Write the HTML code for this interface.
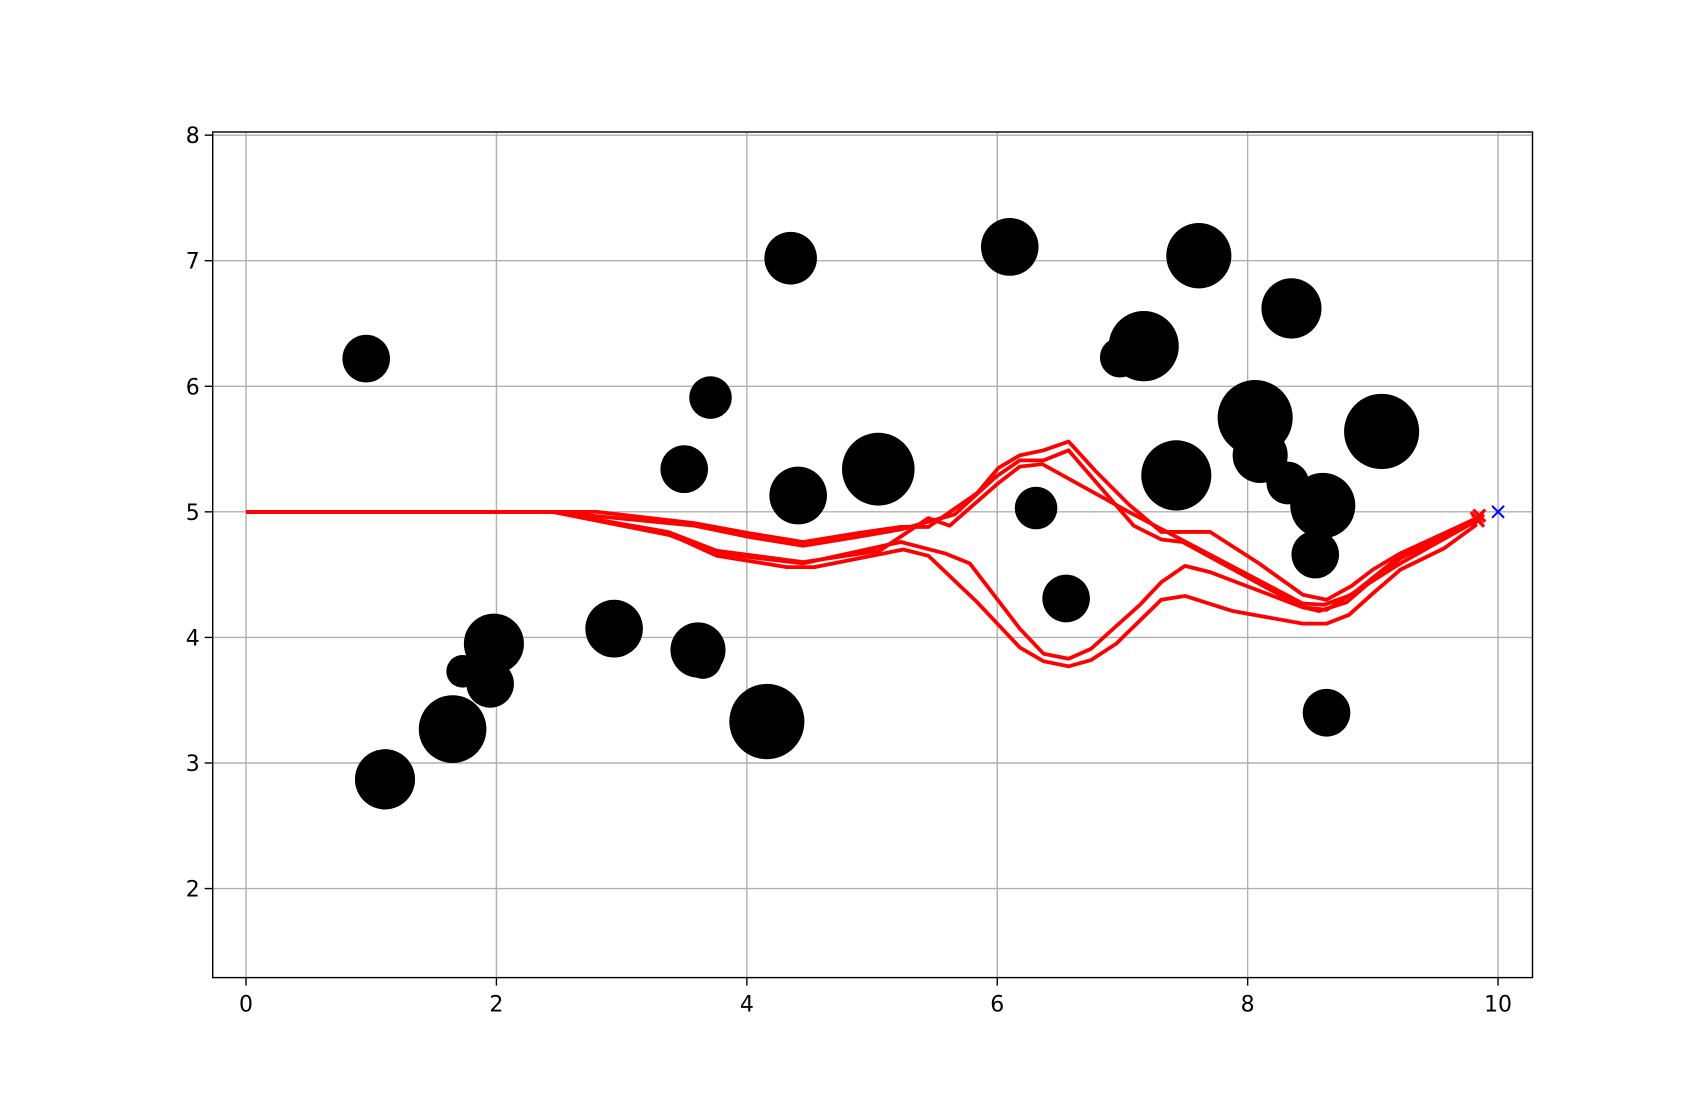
<!DOCTYPE html>
<html><head><meta charset="utf-8"><style>
html,body{margin:0;padding:0;background:#fff;}
svg{display:block;}
text{font-family:"DejaVu Sans","Liberation Sans",sans-serif;font-size:22px;fill:#000;}
</style></head><body>
<svg id="chart" width="1702" height="1098" viewBox="0 0 1702 1098" xmlns="http://www.w3.org/2000/svg">
<rect width="1702" height="1098" fill="#fff"/>
<g id="grid"></g>
<g id="obstacles"></g>
<g id="paths"></g>
<g id="markers"></g>
<g id="axes"></g>
</svg>
<script>
const xTicks = [0,2,4,6,8,10];
const yTicks = [2,3,4,5,6,7,8];
const obsX = [0.96,1.11,1.65,1.73,1.98,1.95,2.94,3.50,3.71,3.61,3.65,4.16,4.35,4.41,5.05,6.10,6.31,6.55,6.98,7.17,7.43,7.61,8.06,8.10,8.32,8.35,8.60,8.54,8.63,9.07];
const obsY = [6.22,2.87,3.27,3.73,3.95,3.63,4.07,5.34,5.91,3.90,3.82,3.33,7.02,5.13,5.34,7.11,5.03,4.31,6.23,6.32,5.29,7.04,5.75,5.45,5.23,6.62,5.05,4.66,3.40,5.64];
const obsR = [0.19,0.24,0.27,0.13,0.24,0.19,0.23,0.19,0.17,0.22,0.15,0.30,0.21,0.23,0.29,0.23,0.17,0.19,0.16,0.28,0.28,0.26,0.30,0.22,0.17,0.24,0.26,0.19,0.19,0.30];
const pathAx = [0,2.45,2.80,3.58,4.02,4.45,4.88,5.23,5.45,5.84,6.01,6.18,6.37,6.57,6.79,7.05,7.31,7.70,8.09,8.44,8.63,8.83,9.00,9.22,9.57,9.83];
const pathAy = [5,5,5,4.91,4.83,4.76,4.83,4.88,4.88,5.15,5.35,5.45,5.49,5.56,5.32,5.06,4.84,4.84,4.59,4.34,4.30,4.41,4.54,4.67,4.83,4.95];
const pathBx = [0,2.45,3.58,4.02,4.45,4.88,5.23,5.66,5.99,6.18,6.37,6.57,7.09,7.31,7.48,8.44,8.57,8.79,9.00,9.22,9.83];
const pathBy = [5,5,4.89,4.80,4.73,4.80,4.86,4.98,5.28,5.41,5.41,5.49,4.89,4.78,4.76,4.24,4.21,4.28,4.46,4.63,4.93];
const pathCx = [0,2.45,3.37,3.76,4.45,5.06,5.45,5.62,6.01,6.18,6.36,7.05,8.44,8.61,8.83,9.22,9.83];
const pathCy = [5,5,4.84,4.69,4.60,4.69,4.95,4.89,5.23,5.36,5.38,5.00,4.27,4.26,4.34,4.65,4.93];
const pathDx = [0,2.45,3.37,3.76,4.45,5.23,5.58,5.78,6.18,6.37,6.57,6.75,6.95,7.14,7.31,7.50,7.70,8.44,8.63,8.87,9.22,9.83];
const pathDy = [5,5,4.82,4.67,4.59,4.76,4.67,4.59,4.07,3.87,3.83,3.91,4.09,4.26,4.44,4.57,4.52,4.24,4.22,4.37,4.59,4.93];
const pathEx = [0,2.45,3.41,3.76,4.32,4.54,5.25,5.45,5.84,6.18,6.37,6.57,6.75,6.95,7.31,7.50,7.88,8.44,8.63,8.81,9.00,9.22,9.57,9.83];
const pathEy = [5,5,4.81,4.65,4.56,4.56,4.70,4.65,4.28,3.92,3.81,3.77,3.82,3.95,4.30,4.33,4.21,4.11,4.11,4.18,4.35,4.54,4.71,4.90];
const endX = [9.83,9.85,9.84];
const endY = [4.95,4.97,4.93];
const goalX = [10];
const goalY = [5];

const L=212.7,R=1532.5,T=132,B=977.6;
const xmin=-0.266,xmax=10.275,ymin=1.291,ymax=8.025;
const sx=v=>L+(v-xmin)/(xmax-xmin)*(R-L);
const sy=v=>B-(v-ymin)/(ymax-ymin)*(B-T);
const NS='http://www.w3.org/2000/svg';
function mk(tag,attrs,parent){const e=document.createElementNS(NS,tag);for(const k in attrs)e.setAttribute(k,attrs[k]);parent.appendChild(e);return e;}
const grid=document.getElementById('grid'),obs=document.getElementById('obstacles'),paths=document.getElementById('paths'),markers=document.getElementById('markers'),axes=document.getElementById('axes');

xTicks.forEach(t=>{
  const g=mk('line',{x1:sx(t),x2:sx(t),y1:T,y2:B,stroke:'#b0b0b0','stroke-width':1.4},grid);
  
  
  const tk=mk('line',{x1:sx(t),x2:sx(t),y1:B,y2:B+8,stroke:'#000','stroke-width':1.4},axes);
  
  
  const tx=mk('text',{x:sx(t),y:B+34,'text-anchor':'middle'},axes);tx.textContent=t;
  
  
});
yTicks.forEach(t=>{
  const g=mk('line',{x1:L,x2:R,y1:sy(t),y2:sy(t),stroke:'#b0b0b0','stroke-width':1.4},grid);
  
  
  const tk=mk('line',{x1:L-8,x2:L,y1:sy(t),y2:sy(t),stroke:'#000','stroke-width':1.4},axes);
  
  
  const tx=mk('text',{x:L-13,y:sy(t)+8,'text-anchor':'end'},axes);tx.textContent=t;
  
  
});
const frame=mk('rect',{x:L,y:T,width:R-L,height:B-T,fill:'none',stroke:'#000','stroke-width':1.4},axes);



const pxX=(R-L)/(xmax-xmin),pxY=(B-T)/(ymax-ymin);
obsX.forEach((x,i)=>{
  const c=mk('ellipse',{cx:sx(x),cy:sy(obsY[i]),rx:obsR[i]*pxX,ry:obsR[i]*pxY,fill:'#000'},obs);
  
  
});
[[pathAx,pathAy],[pathBx,pathBy],[pathCx,pathCy],[pathDx,pathDy],[pathEx,pathEy]].forEach(([xs,ys])=>{
  const p=mk('polyline',{points:xs.map((x,i)=>sx(x)+','+sy(ys[i])).join(' '),fill:'none',stroke:'#ff0000','stroke-width':3.8,'stroke-linejoin':'round'},paths);
  
  
});
function cross(x,y,col,s,w){
  const g=mk('g',{},markers);
  mk('line',{x1:x-s,y1:y-s,x2:x+s,y2:y+s,stroke:col,'stroke-width':w},g);
  mk('line',{x1:x-s,y1:y+s,x2:x+s,y2:y-s,stroke:col,'stroke-width':w},g);
  return g;
}
endX.forEach((x,i)=>{
  const g=cross(sx(x),sy(endY[i]),'#ff0000',6,3.2);
  
  
});
goalX.forEach((x,i)=>{
  const g=cross(sx(x),sy(goalY[i]),'#0000ff',6,2);
  
  
});
</script>
</body></html>
